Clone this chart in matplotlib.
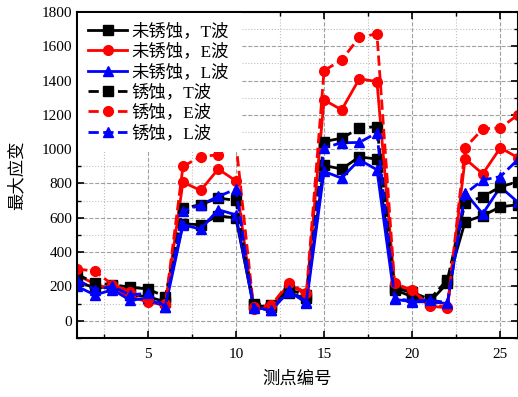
import numpy as np
import matplotlib.pyplot as plt
from matplotlib.ticker import MultipleLocator

plt.rcParams['font.family'] = ['Liberation Serif', 'Noto Sans CJK SC']
plt.rcParams['axes.unicode_minus'] = False

# measuring points
points = np.arange(1, 27)

# unrusted
t_plain = [230, 190, 200, 150, 140, 110, 565, 559, 612, 598, 90, 80, 160, 130,
           905, 884, 955, 942, 180, 140, 110, 220, 577, 612, 664, 676]
e_plain = [265, 215, 180, 140, 110, 90, 808, 759, 884, 815, 70, 75, 215, 150,
           1287, 1229, 1410, 1394, 205, 175, 85, 75, 944, 856, 1008, 950]
l_plain = [200, 150, 180, 120, 130, 80, 559, 534, 647, 617, 80, 60, 170, 105,
           870, 831, 938, 880, 125, 110, 110, 100, 746, 623, 780, 690]

# rusted
t_rust = [270, 220, 210, 195, 185, 140, 656, 676, 715, 701, 100, 90, 180, 150,
          1044, 1064, 1122, 1132, 190, 165, 125, 240, 687, 722, 781, 810]
e_rust = [301, 289, 210, 170, 125, 95, 899, 957, 967, 1040, 80, 90, 219, 161,
          1458, 1520, 1652, 1672, 219, 177, 90, 80, 1008, 1118, 1124, 1200]
l_rust = [240, 180, 200, 150, 160, 80, 637, 676, 724, 767, 75, 60, 180, 110,
          1008, 1037, 1039, 1095, 130, 115, 120, 105, 740, 820, 840, 940]

labels = ['未锈蚀，T波', '未锈蚀，E波', '未锈蚀，L波', '锈蚀，T波', '锈蚀，E波', '锈蚀，L波']

fig = plt.figure(figsize=(5.18, 3.97), dpi=100)
ax = fig.add_axes([0.149, 0.149, 0.851, 0.821])

ax.grid(which='major', linestyle='--', color='#a0a0a0', linewidth=0.8, zorder=0)
ax.grid(which='minor', linestyle=':', color='#c0c0c0', linewidth=0.8, zorder=0)
ax.set_axisbelow(True)

series = [
    (t_plain, 'black', 's', '-'),
    (e_plain, 'red', 'o', '-'),
    (l_plain, 'blue', '^', '-'),
    (t_rust, 'black', 's', '--'),
    (e_rust, 'red', 'o', '--'),
    (l_rust, 'blue', '^', '--'),
]
for (vals, c, m, ls), lab in zip(series, labels):
    ax.plot(points, vals, color=c, marker=m, linestyle=ls, linewidth=2,
            markersize=7, label=lab)

ax.set_xlim(1, 26)
ax.set_ylim(-100, 1800)
ax.xaxis.set_major_locator(MultipleLocator(5))
ax.xaxis.set_minor_locator(MultipleLocator(2.5))
ax.yaxis.set_major_locator(MultipleLocator(200))
ax.yaxis.set_minor_locator(MultipleLocator(100))
ax.tick_params(which='both', direction='in', top=True, right=True, labelsize=11)
ax.tick_params(which='major', length=5, width=1.2)
ax.tick_params(which='minor', length=3, width=1)
ax.tick_params(axis='x', pad=7)
for s in ax.spines.values():
    s.set_linewidth(1.5)

ax.set_xlabel('测点编号', fontsize=12.5, labelpad=8)
ax.set_ylabel('最大应变', fontsize=12.5, labelpad=12)

# legend box roughly spans the upper-left corner up to point 10
leg = ax.legend(loc='upper left', bbox_to_anchor=(0.0, 0.0, 0.375, 1.0),
                mode='expand', fontsize=12.5, frameon=True, framealpha=1,
                facecolor='white', edgecolor='none', handlelength=2.2,
                handletextpad=0.3, labelspacing=0.2, borderaxespad=0.05,
                borderpad=0.6, fancybox=False)
leg.set_zorder(10)

fig.savefig('out.png', dpi=100)
